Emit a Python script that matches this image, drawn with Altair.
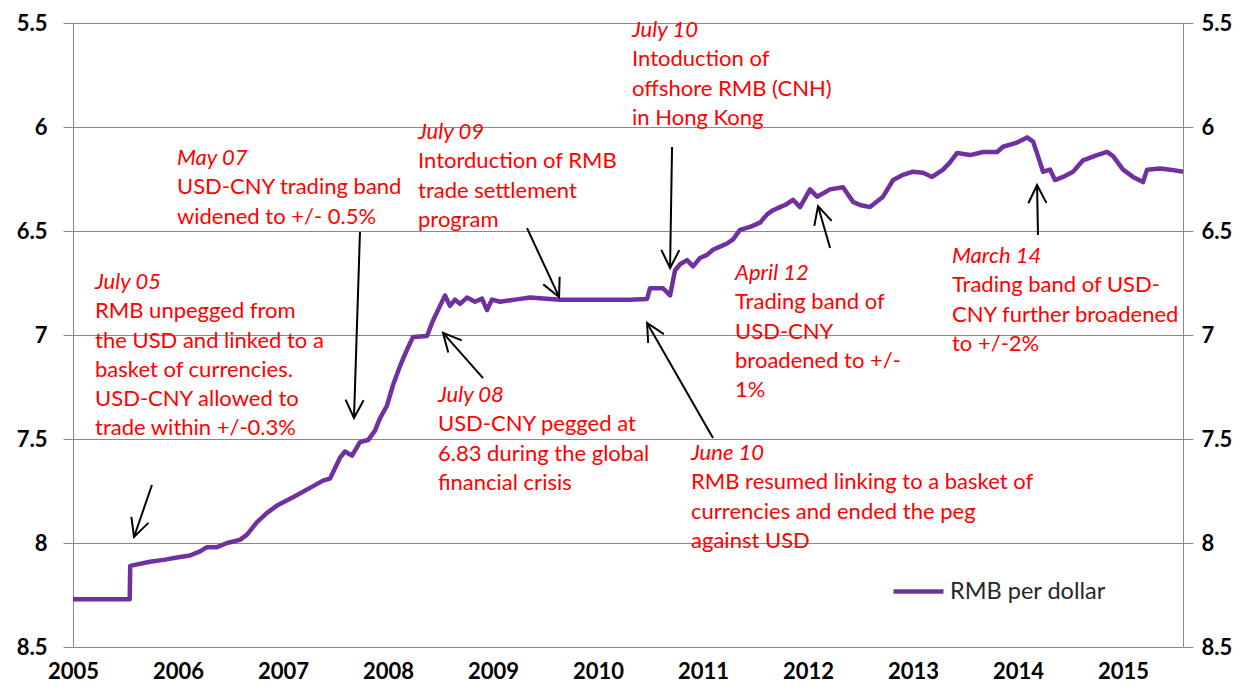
import math
import altair as alt
import pandas as pd

# ---------------- data ----------------
years = [2005.0, 2005.54, 2005.545, 2005.733, 2005.876, 2005.99, 2006.114, 2006.21, 2006.276, 2006.371,
         2006.467, 2006.59, 2006.657, 2006.752, 2006.848, 2006.943, 2007.095, 2007.257, 2007.381, 2007.448,
         2007.543, 2007.59, 2007.657, 2007.733, 2007.81, 2007.876, 2007.924, 2007.99, 2008.048, 2008.114,
         2008.181, 2008.238, 2008.371, 2008.429, 2008.495, 2008.543, 2008.59, 2008.638, 2008.686, 2008.752,
         2008.829, 2008.895, 2008.943, 2008.99, 2009.067, 2009.21, 2009.352, 2009.638, 2010.019, 2010.305,
         2010.467, 2010.495, 2010.619, 2010.686, 2010.733, 2010.781, 2010.848, 2010.905, 2010.971, 2011.038,
         2011.095, 2011.162, 2011.229, 2011.286, 2011.352, 2011.448, 2011.543, 2011.61, 2011.667, 2011.733,
         2011.8, 2011.857, 2011.924, 2012.019, 2012.086, 2012.21, 2012.333, 2012.429, 2012.495, 2012.59,
         2012.714, 2012.81, 2012.905, 2013.0, 2013.095, 2013.181, 2013.286, 2013.352, 2013.419, 2013.543,
         2013.667, 2013.8, 2013.857, 2013.99, 2014.086, 2014.143, 2014.19, 2014.238, 2014.305, 2014.352,
         2014.429, 2014.524, 2014.619, 2014.752, 2014.848, 2014.905, 2015.0, 2015.095, 2015.19, 2015.229,
         2015.352, 2015.448, 2015.571]
rates = [8.27, 8.27, 8.11, 8.09, 8.08, 8.07, 8.06, 8.04, 8.02, 8.02,
         8.00, 7.985, 7.96, 7.90, 7.855, 7.82, 7.78, 7.735, 7.70, 7.69,
         7.59, 7.56, 7.58, 7.515, 7.505, 7.46, 7.40, 7.34, 7.24, 7.15,
         7.07, 7.01, 7.005, 6.93, 6.86, 6.81, 6.86, 6.83, 6.85, 6.82,
         6.84, 6.825, 6.88, 6.83, 6.84, 6.83, 6.82, 6.83, 6.83, 6.83,
         6.827, 6.775, 6.775, 6.81, 6.69, 6.66, 6.64, 6.67, 6.63, 6.615,
         6.59, 6.575, 6.56, 6.54, 6.495, 6.48, 6.46, 6.42, 6.40, 6.385,
         6.37, 6.35, 6.385, 6.30, 6.335, 6.30, 6.29, 6.36, 6.375, 6.385,
         6.335, 6.255, 6.23, 6.215, 6.22, 6.24, 6.205, 6.17, 6.125, 6.135,
         6.12, 6.12, 6.095, 6.075, 6.05, 6.07, 6.14, 6.215, 6.205, 6.255,
         6.24, 6.215, 6.16, 6.135, 6.12, 6.14, 6.205, 6.24, 6.265, 6.205,
         6.20, 6.205, 6.215]
series_name = "RMB per dollar"

y_ticks = [5.5, 6, 6.5, 7, 7.5, 8, 8.5]
x_ticks = list(range(2005, 2016))

ann_titles = ["July 05", "May 07", "July 08", "July 09", "June 10", "July 10", "April 12", "March 14"]
ann_bodies = [
    ["RMB unpegged from", "the USD and linked to a", "basket of currencies.", "USD-CNY allowed to", "trade within +/-0.3%"],
    ["USD-CNY trading band", "widened to +/- 0.5%"],
    ["USD-CNY pegged at", "6.83 during the global", "financial crisis"],
    ["Intorduction of RMB", "trade settlement", "program"],
    ["RMB resumed linking to a basket of", "currencies and ended the peg", "against USD"],
    ["Intoduction of", "offshore RMB (CNH)", "in Hong Kong"],
    ["Trading band of", "USD-CNY", "broadened to +/-", "1%"],
    ["Trading band of USD-", "CNY further broadened", "to +/-2%"],
]
ann_x = [2005.210, 2005.990, 2008.476, 2008.286, 2010.886, 2010.324, 2011.305, 2013.371]
ann_y = [6.745, 6.149, 7.288, 6.024, 7.567, 5.534, 6.702, 6.620]

arrow_tail_x = [2005.752, 2007.733, 2008.905, 2009.324, 2011.095, 2010.705, 2012.210, 2014.190]
arrow_tail_y = [7.721, 6.505, 7.207, 6.486, 7.495, 6.096, 6.582, 6.519]
arrow_tip_x = [2005.581, 2007.676, 2008.524, 2009.629, 2010.467, 2010.686, 2012.095, 2014.181]
arrow_tip_y = [7.971, 7.399, 6.990, 6.817, 6.942, 6.678, 6.380, 6.279]

# ---------------- layout ----------------
X_MIN, X_MAX = 2005.0, 2015.571
Y_MIN, Y_MAX = 5.5, 8.5
W, H = 1110, 624
LINE_GAP = 29.3 * (Y_MAX - Y_MIN) / H  # text line spacing in data units

FONT = "Lato"
RED = "#FF0000"
PURPLE = "#7030A0"
GRAY = "#898989"

df = pd.DataFrame({"year": years, "rate": rates, "series": [series_name] * len(years)})

rows = []
for t, body, ax, ay in zip(ann_titles, ann_bodies, ann_x, ann_y):
    rows.append({"x": ax, "y": ay, "text": t, "kind": "title"})
    for i, line in enumerate(body):
        rows.append({"x": ax, "y": ay + (i + 1) * LINE_GAP, "text": line, "kind": "body"})
ann_df = pd.DataFrame(rows)

px_x = W / (X_MAX - X_MIN)
px_y = H / (Y_MAX - Y_MIN)
angles = []
for tx, ty, hx, hy in zip(arrow_tail_x, arrow_tail_y, arrow_tip_x, arrow_tip_y):
    dx = (hx - tx) * px_x
    dy = (hy - ty) * px_y  # reversed axis: larger value lower on screen
    angles.append(math.degrees(math.atan2(dx, -dy)) % 360)
arr_df = pd.DataFrame({"x": arrow_tail_x, "y": arrow_tail_y, "x2": arrow_tip_x,
                       "y2": arrow_tip_y, "angle": angles})

x_scale = alt.Scale(domain=[X_MIN, X_MAX], nice=False, zero=False)
y_scale = alt.Scale(domain=[Y_MIN, Y_MAX], nice=False, zero=False, reverse=True)

x_axis = alt.Axis(values=x_ticks, format="d", grid=False, domain=False, ticks=False,
                  labelFontSize=22, labelFont=FONT, labelFontWeight="bold", labelColor="black",
                  labelPadding=14, labelFlush=False, labelOverlap=False, title=None)

common_y_axis = dict(values=y_ticks, format="~g", domainColor=GRAY, tickColor=GRAY, tickSize=10,
                     labelFontSize=22, labelFont=FONT, labelFontWeight="bold", labelColor="black",
                     title=None, labelFlush=False, labelOverlap=False)
left_axis = alt.Axis(orient="left", grid=True, gridColor=GRAY, gridWidth=1, labelPadding=16, **common_y_axis)
right_axis = alt.Axis(orient="right", grid=False, labelPadding=8, **common_y_axis)

X = alt.X("year:Q", scale=x_scale, axis=x_axis)

line = alt.Chart(df).mark_line(strokeWidth=4.5, strokeJoin="round").encode(
    x=X,
    y=alt.Y("rate:Q", scale=y_scale, axis=left_axis),
    color=alt.Color("series:N", scale=alt.Scale(domain=[series_name], range=[PURPLE]),
                    legend=alt.Legend(title=None, orient="none", legendX=818, legendY=541,
                                      symbolType="stroke", symbolSize=2500, symbolStrokeWidth=4.5,
                                      labelFontSize=23.5, labelFont=FONT, labelColor="#262626",
                                      padding=0, labelOffset=4)),
)

line_right = alt.Chart(df).mark_line(strokeOpacity=0).encode(
    x=X,
    y=alt.Y("rate:Q", scale=y_scale, axis=right_axis),
)

shafts = alt.Chart(arr_df).mark_rule(color="black", strokeWidth=2).encode(
    x=alt.X("x:Q", scale=x_scale, axis=x_axis),
    y=alt.Y("y:Q", scale=y_scale, axis=None),
    x2="x2:Q",
    y2="y2:Q",
)

heads = alt.Chart(arr_df).mark_point(shape="M-0.5,1L0,0L0.5,1", size=1300, filled=False,
                                     color="black", strokeWidth=2, opacity=1).encode(
    x=alt.X("x2:Q", scale=x_scale, axis=x_axis),
    y=alt.Y("y2:Q", scale=y_scale, axis=None),
    angle=alt.Angle("angle:Q", scale=None),
)

titles = alt.Chart(ann_df).transform_filter(alt.datum.kind == "title").mark_text(
    align="left", baseline="middle", font=FONT, fontSize=22, fontStyle="italic", color=RED
).encode(
    x=alt.X("x:Q", scale=x_scale, axis=x_axis),
    y=alt.Y("y:Q", scale=y_scale, axis=None),
    text="text:N",
)

bodies = alt.Chart(ann_df).transform_filter(alt.datum.kind == "body").mark_text(
    align="left", baseline="middle", font=FONT, fontSize=22, color=RED
).encode(
    x=alt.X("x:Q", scale=x_scale, axis=x_axis),
    y=alt.Y("y:Q", scale=y_scale, axis=None),
    text="text:N",
)

chart = alt.layer(line, line_right, shafts, heads, titles, bodies).resolve_scale(
    y="independent"
).properties(
    width=W, height=H,
    autosize=alt.AutoSizeParams(type="none"),
    padding={"left": 65, "top": 15, "right": 54, "bottom": 36},
).configure_view(stroke=None)

chart.save("out.html", embed_options={"renderer": "svg", "actions": False})
